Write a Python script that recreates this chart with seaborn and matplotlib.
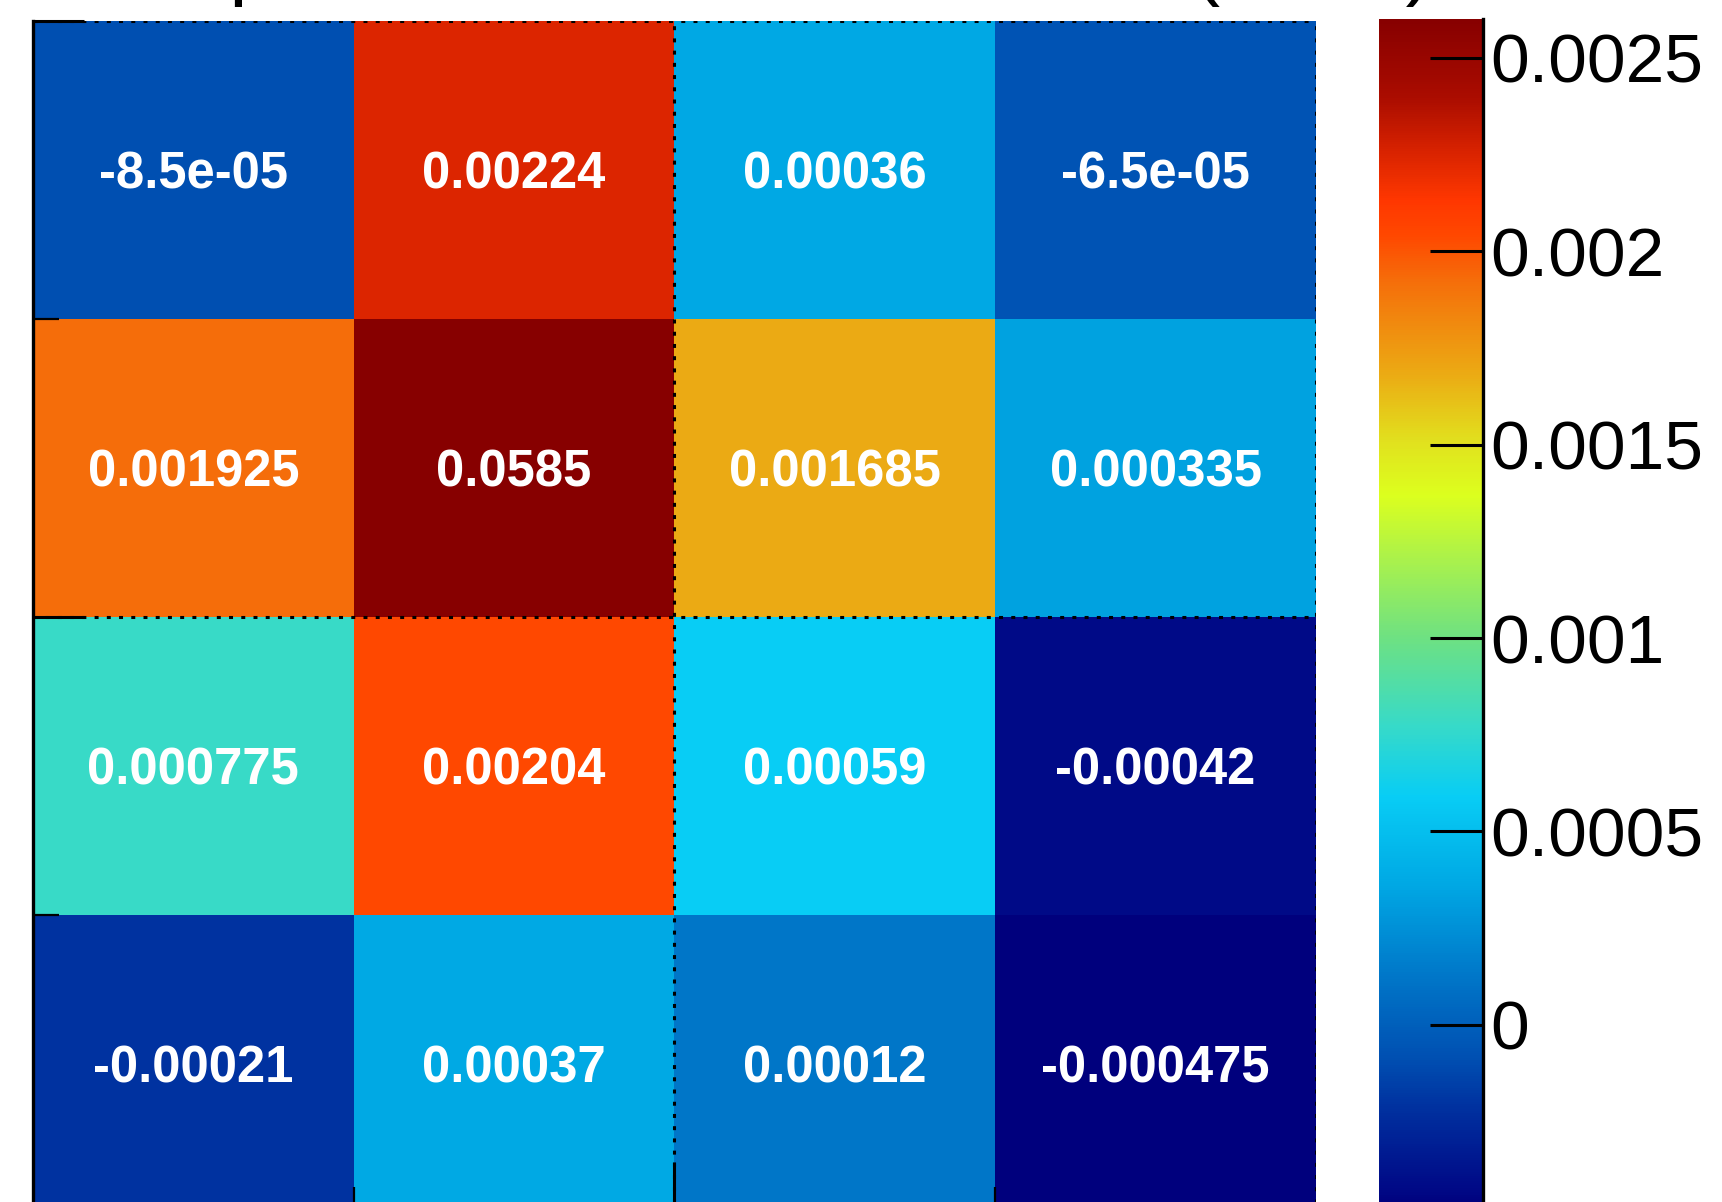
import numpy as np
import matplotlib
matplotlib.use("Agg")
import matplotlib.pyplot as plt
from matplotlib.colors import LinearSegmentedColormap
from matplotlib.ticker import FormatStrFormatter
import seaborn as sns

plt.rcParams["font.family"] = ["Liberation Sans", "DejaVu Sans"]

# Matrix entries, listed from the top row down
row_1 = [-8.5e-05, 0.00224, 0.00036, -6.5e-05]
row_2 = [0.001925, 0.0585, 0.001685, 0.000335]
row_3 = [0.000775, 0.00204, 0.00059, -0.00042]
row_4 = [-0.00021, 0.00037, 0.00012, -0.000475]

z_min = -0.000475
z_max = 0.0026
cbar_ticks = [0.0, 0.0005, 0.001, 0.0015, 0.002, 0.0025]
title_text = "Spin correlation coefficients (norm)"

matrix = np.array([row_1, row_2, row_3, row_4])
n_rows, n_cols = matrix.shape

# Rainbow palette: navy -> blue -> cyan -> green -> yellow -> orange -> dark red
palette_stops = [
    (0.000, (0, 0, 125)),
    (0.018, (0, 10, 135)),
    (0.086, (0, 50, 160)),
    (0.127, (0, 80, 178)),
    (0.194, (0, 118, 200)),
    (0.272, (0, 168, 228)),
    (0.346, (8, 205, 245)),
    (0.406, (55, 218, 200)),
    (0.480, (110, 225, 130)),
    (0.600, (220, 255, 30)),
    (0.645, (225, 225, 30)),
    (0.700, (235, 172, 20)),
    (0.780, (245, 110, 10)),
    (0.818, (255, 72, 0)),
    (0.848, (255, 55, 0)),
    (0.883, (222, 38, 0)),
    (0.935, (170, 12, 0)),
    (1.000, (135, 0, 0)),
]
cmap = LinearSegmentedColormap.from_list(
    "rainbow_root",
    [(t, tuple(c / 255 for c in rgb)) for t, rgb in palette_stops],
    N=512,
)

fig = plt.figure(figsize=(17.22, 12.02), dpi=100)
ax = fig.add_axes([0.01916, -0.00915, 0.74506, 0.99168])
cax = fig.add_axes([0.8008, -0.00558, 0.0604, 0.98977])

sns.heatmap(
    matrix, ax=ax, cbar_ax=cax, cmap=cmap, vmin=z_min, vmax=z_max,
    annot=True, fmt="g", linewidths=0,
    annot_kws={"color": "white", "fontsize": 36.5, "fontweight": "bold",
               "va": "center_baseline"},
)

# Axis frame: solid left edge, ticks pointing inwards
ax.set_xticks([n_cols // 2])
ax.set_xticks([1, 3], minor=True)
ax.set_yticks([0, n_rows // 2, n_rows])
ax.set_yticks([1, 3], minor=True)
ax.set_xticklabels([])
ax.set_yticklabels([])
ax.set_xlabel("")
ax.set_ylabel("")
ax.tick_params(which="major", direction="in", length=37, width=2.2,
               left=True, bottom=True, top=False, right=False,
               labelleft=False, labelbottom=False, color="black")
ax.tick_params(which="minor", direction="in", length=19, width=1.6,
               left=True, bottom=True, top=False, right=False, color="black")
for name, sp in ax.spines.items():
    sp.set_visible(name == "left")
ax.spines["left"].set_linewidth(2.4)
ax.spines["left"].set_color("black")

# Dotted grid on the major divisions
grid_style = dict(color="black", linestyle=(0, (1.3, 2.7)), linewidth=2.2, zorder=2.5)
for xv in (n_cols // 2, n_cols):
    ax.axvline(xv, **grid_style)
for yv in (0, n_rows // 2, n_rows):
    ax.axhline(yv, **grid_style)

# Colour scale
cbar = ax.collections[0].colorbar
cbar.set_ticks(cbar_ticks)
cbar.ax.yaxis.set_major_formatter(FormatStrFormatter("%g"))
cbar.ax.minorticks_off()
cbar.outline.set_visible(False)
cax.spines["right"].set_visible(True)
cax.spines["right"].set_linewidth(2.4)
cax.spines["right"].set_color("black")
cax.tick_params(axis="y", direction="in", length=38, width=2.2, labelsize=50,
                pad=5, right=True, left=False, color="black")

fig.text(0.1016, 1.0083, title_text, fontsize=58.7, ha="left", va="baseline")

fig.savefig("out.png", dpi=100)
